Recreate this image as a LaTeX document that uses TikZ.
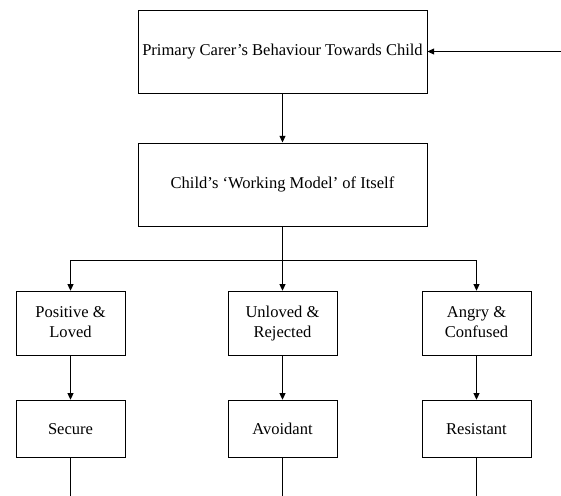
\documentclass[tikz,border=0pt]{standalone}
\usepackage{fontspec}
\setmainfont{Liberation Serif}
\usepackage{tikz}
\usetikzlibrary{positioning}
\usetikzlibrary{arrows.meta}
\usetikzlibrary{calc}
\tikzset{
    attachment diagram/.style={
            x=0.75pt,y=-0.75pt,
            font=\fontsize{12.4}{15}\selectfont,
            bigbox/.style={draw,line width=0.75pt,minimum width=216.75pt,minimum height=62.25pt,inner sep=0pt},
            smallbox/.style={draw,line width=0.75pt,minimum width=81.75pt,minimum height=48pt,align=center,inner sep=0pt,
                execute at begin node={\rule{0pt}{10.9pt}},execute at end node={\vphantom{j}}},
            stylebox/.style={draw,line width=0.75pt,minimum width=81.75pt,minimum height=42.75pt,inner sep=0pt},
            arrow/.style={-{Triangle[length=5pt,width=4.5pt]},line width=0.75pt},
            line/.style={line width=0.75pt}
        }
    }

\begin{document}
\begin{tikzpicture}[attachment diagram]
                \useasboundingbox (0,0) rectangle (561,496);
                \node[bigbox] (carer) at (282.5,51.5) {Primary Carer’s Behaviour Towards Child};
                \node[bigbox] (model) [below=36.75pt of carer] {Child’s ‘Working Model’ of Itself};
                \node[smallbox] (unloved) [below=48.2pt of model] {Unloved \&\\Rejected};
                \node[smallbox] (positive) [left=76.5pt of unloved] {Positive \&\\Loved};
                \node[smallbox] (angry) [right=63pt of unloved] {Angry \&\\Confused};
                \node[stylebox] (secure) [below=33pt of positive] {Secure};
                \node[stylebox] (avoidant) [below=33pt of unloved] {Avoidant};
                \node[stylebox] (resistant) [below=33pt of angry] {Resistant};
                \coordinate (in) at (561,51.5);
                \coordinate (fork) at ($(model.south)+(0,-25.7pt)$);
                \coordinate (bottom) at (0,496);
                \draw [arrow] (in) -- (carer);
                \draw [arrow] (carer) -- (model);
                \draw [arrow] (model) -- (unloved);
                \draw [arrow] (fork) -| (positive);
                \draw [arrow] (fork) -| (angry);
                \draw [arrow] (positive) -- (secure);
                \draw [arrow] (unloved) -- (avoidant);
                \draw [arrow] (angry) -- (resistant);
                \draw [line] (secure) -- (secure |- bottom);
                \draw [line] (avoidant) -- (avoidant |- bottom);
                \draw [line] (resistant) -- (resistant |- bottom);
            \end{tikzpicture}
\end{document}
